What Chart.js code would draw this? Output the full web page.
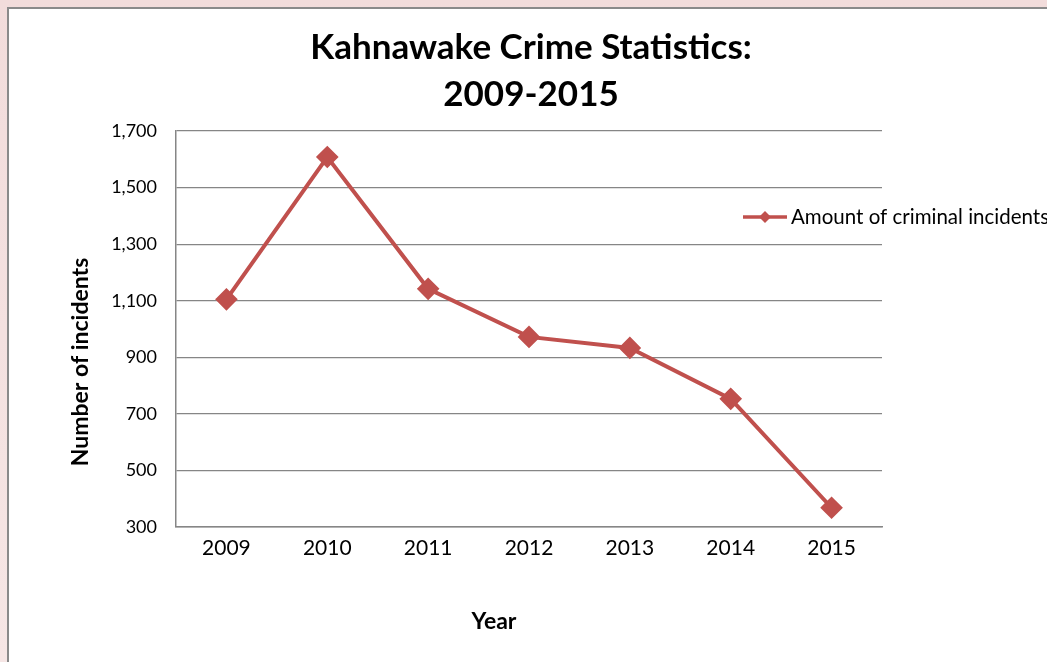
<!DOCTYPE html>
<html>
<head>
<meta charset="utf-8">
<script src="https://cdn.jsdelivr.net/npm/chart.js@4/dist/chart.umd.min.js"></script>
<style>
  html, body { margin: 0; padding: 0; }
  body { width: 1047px; height: 662px; overflow: hidden; position: relative;
         background: linear-gradient(#f2dcdb, #f6e6e5); }
  #frame { position: absolute; left: 7px; top: 7px; width: 1100px; height: 700px;
           border: 2px solid #8a8a8a; background: #fff; }
  #lineChart { position: absolute; left: 0; top: 0; }
</style>
</head>
<body>
<div id="frame"></div>
<canvas id="lineChart" width="1047" height="662"></canvas>
<script>
const years = ['2009', '2010', '2011', '2012', '2013', '2014', '2015'];
const incidents = [1105, 1608, 1142, 972, 933, 753, 368];
const titleLines = ['Kahnawake Crime Statistics:', '2009-2015'];
const seriesLabel = 'Amount of criminal incidents';
const xTitle = 'Year';
const yTitle = 'Number of incidents';

const red = '#c0504d';
const fontName = 'Lato, "Open Sans", sans-serif';

// titles + legend drawn by hand so they sit where the original puts them
const extraText = {
  id: 'extraText',
  afterDraw(chart) {
    const ctx = chart.ctx;
    ctx.save();
    ctx.fillStyle = '#000';
    ctx.textAlign = 'center';
    ctx.textBaseline = 'middle';
    ctx.font = 'bold 35px ' + fontName;
    ctx.fillText(titleLines[0], 531, 48);
    ctx.fillText(titleLines[1], 531, 95);

    ctx.font = 'bold 23px ' + fontName;
    ctx.fillText(xTitle, 494, 622);
    ctx.save();
    ctx.translate(81, 362);
    ctx.rotate(-Math.PI / 2);
    ctx.fillText(yTitle, 0, 0);
    ctx.restore();

    // legend
    ctx.strokeStyle = red;
    ctx.lineWidth = 3.5;
    ctx.beginPath();
    ctx.moveTo(743, 217);
    ctx.lineTo(787, 217);
    ctx.stroke();
    ctx.fillStyle = red;
    ctx.beginPath();
    ctx.moveTo(765, 211);
    ctx.lineTo(771, 217);
    ctx.lineTo(765, 223);
    ctx.lineTo(759, 217);
    ctx.closePath();
    ctx.fill();
    ctx.fillStyle = '#000';
    ctx.textAlign = 'left';
    ctx.font = '20.5px ' + fontName;
    ctx.fillText(chart.data.datasets[0].label, 791, 217);
    ctx.restore();
  }
};

const config = {
  type: 'line',
  data: {
    labels: years,
    datasets: [{
      label: seriesLabel,
      data: incidents,
      borderColor: red,
      backgroundColor: red,
      borderWidth: 4,
      pointStyle: 'rectRot',
      pointRadius: 8.5,
      pointHoverRadius: 8.5,
      tension: 0
    }]
  },
  options: {
    responsive: false,
    animation: false,
    layout: { padding: { left: 0, right: 165, top: 131, bottom: 0 } },
    plugins: {
      legend: { display: false },
      title: { display: false },
      tooltip: { enabled: false }
    },
    scales: {
      x: {
        offset: true,
        afterFit: (scale) => { scale.height = 135; },
        grid: { display: false, drawTicks: false },
        border: { color: '#868686', width: 1.5 },
        ticks: { color: '#000', padding: 9, font: { family: fontName, size: 21 } }
      },
      y: {
        min: 300,
        max: 1700,
        afterFit: (scale) => { scale.width = 176; },
        grid: { color: '#868686', lineWidth: 1.2, drawTicks: false },
        border: { color: '#868686', width: 1.5 },
        ticks: { stepSize: 200, color: '#000', padding: 19, font: { family: fontName, size: 18 } }
      }
    }
  },
  plugins: [extraText]
};

let lineChart = new Chart(document.getElementById('lineChart'), config);
</script>
</body>
</html>
